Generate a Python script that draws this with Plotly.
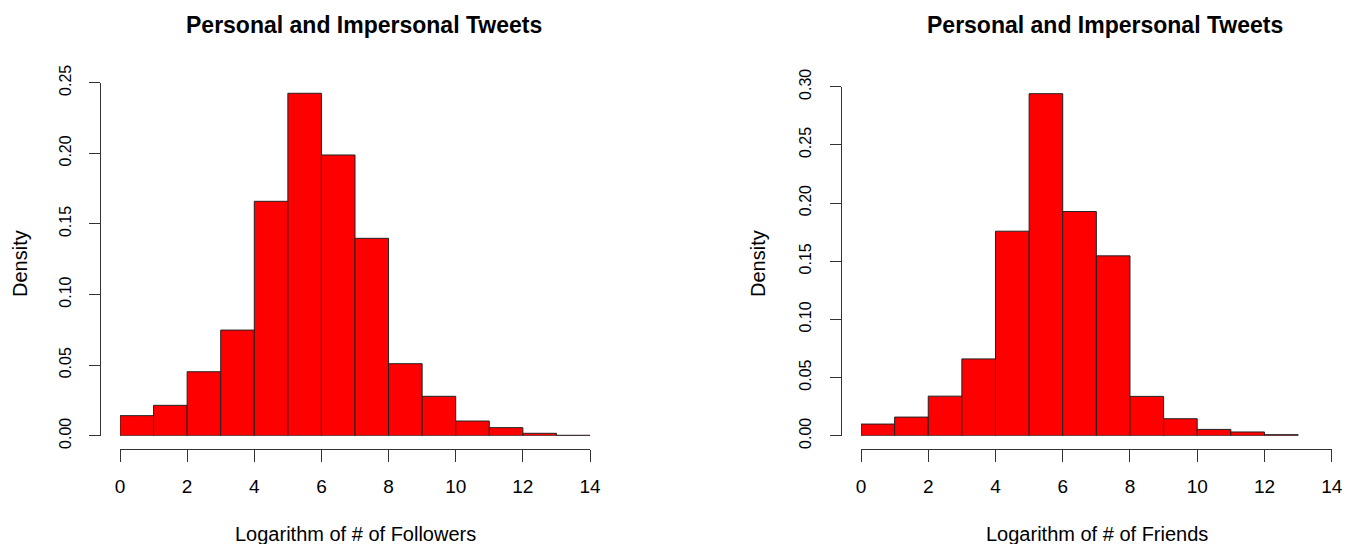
import plotly.graph_objects as go

W, H = 1345, 544

# Histogram bins (unit width) and densities
bin_left = list(range(0, 14))
followers_density = [0.0142, 0.0215, 0.0453, 0.0748, 0.1660, 0.2425, 0.1988,
                     0.1398, 0.0510, 0.0279, 0.0104, 0.0057, 0.0017, 0.0003]

friends_left = list(range(0, 13))
friends_density = [0.0100, 0.0160, 0.0340, 0.0660, 0.1758, 0.2940, 0.1927,
                   0.1546, 0.0338, 0.0146, 0.0054, 0.0032, 0.0009]

title_text = "Personal and Impersonal Tweets"
xlabels = ["Logarithm of # of Followers", "Logarithm of # of Friends"]
ylabel = "Density"

FONT = "Liberation Sans, Arial, Helvetica, sans-serif"
AXIS_COLOR = "#333333"


def px_x(p):
    return p / W


def px_y(p):
    return 1 - p / H


fig = go.Figure()

fig.add_trace(go.Bar(
    x=[b + 0.5 for b in bin_left], y=followers_density, width=1,
    marker=dict(color="#ff0000", line=dict(color="#222222", width=1)),
    xaxis="x", yaxis="y", showlegend=False, hoverinfo="skip"))

fig.add_trace(go.Bar(
    x=[b + 0.5 for b in friends_left], y=friends_density, width=1,
    marker=dict(color="#ff0000", line=dict(color="#222222", width=1)),
    xaxis="x2", yaxis="y2", showlegend=False, hoverinfo="skip"))


def xaxis_spec(x0, x1):
    return dict(
        domain=[px_x(x0), px_x(x1)], range=[0, 14],
        anchor="free", position=px_y(449.3), automargin=False,
        showline=True, linecolor=AXIS_COLOR, linewidth=1,
        ticks="outside", ticklen=12, tickcolor=AXIS_COLOR, tickwidth=1,
        tickmode="linear", tick0=0, dtick=2, ticklabelstandoff=8,
        tickfont=dict(family=FONT, size=19, color="black"),
        showgrid=False, zeroline=False, fixedrange=True)


def yaxis_spec(y_top, top_val, x_line):
    return dict(
        domain=[px_y(435.7), px_y(y_top)], range=[0, top_val],
        anchor="free", position=px_x(x_line), automargin=False,
        showline=True, linecolor=AXIS_COLOR, linewidth=1,
        ticks="outside", ticklen=11, tickcolor=AXIS_COLOR, tickwidth=1,
        tickmode="linear", tick0=0, dtick=0.05, tickformat=".2f",
        tickangle=-90, ticklabelstandoff=12,
        tickfont=dict(family=FONT, size=16, color="black"),
        showgrid=False, zeroline=False, fixedrange=True)


annotations = []
for cx in (364, 1104.7):
    annotations.append(dict(
        x=px_x(cx), y=px_y(25), xref="paper", yref="paper",
        text="<b>%s</b>" % title_text, showarrow=False,
        xanchor="center", yanchor="middle",
        font=dict(family=FONT, size=23, color="black")))
for cx, xl in [(355, xlabels[0]), (1096.5, xlabels[1])]:
    annotations.append(dict(
        x=px_x(cx), y=px_y(534), xref="paper", yref="paper",
        text=xl, showarrow=False, xanchor="center", yanchor="middle",
        font=dict(family=FONT, size=20, color="black")))
for cx in (20, 758):
    annotations.append(dict(
        x=px_x(cx), y=px_y(264), xref="paper", yref="paper",
        text=ylabel, showarrow=False, textangle=-90,
        xanchor="center", yanchor="middle",
        font=dict(family=FONT, size=20, color="black")))

fig.update_layout(
    width=W, height=H, autosize=False,
    margin=dict(l=0, r=0, t=0, b=0, pad=0, autoexpand=False),
    paper_bgcolor="white", plot_bgcolor="white",
    xaxis=xaxis_spec(120, 590),
    yaxis=yaxis_spec(82.7, 0.25, 100),
    xaxis2=xaxis_spec(861, 1331.7),
    yaxis2=yaxis_spec(86.7, 0.30, 840.7),
    annotations=annotations,
    barmode="overlay",
)

fig.write_html("out.html", config={"displayModeBar": False})
